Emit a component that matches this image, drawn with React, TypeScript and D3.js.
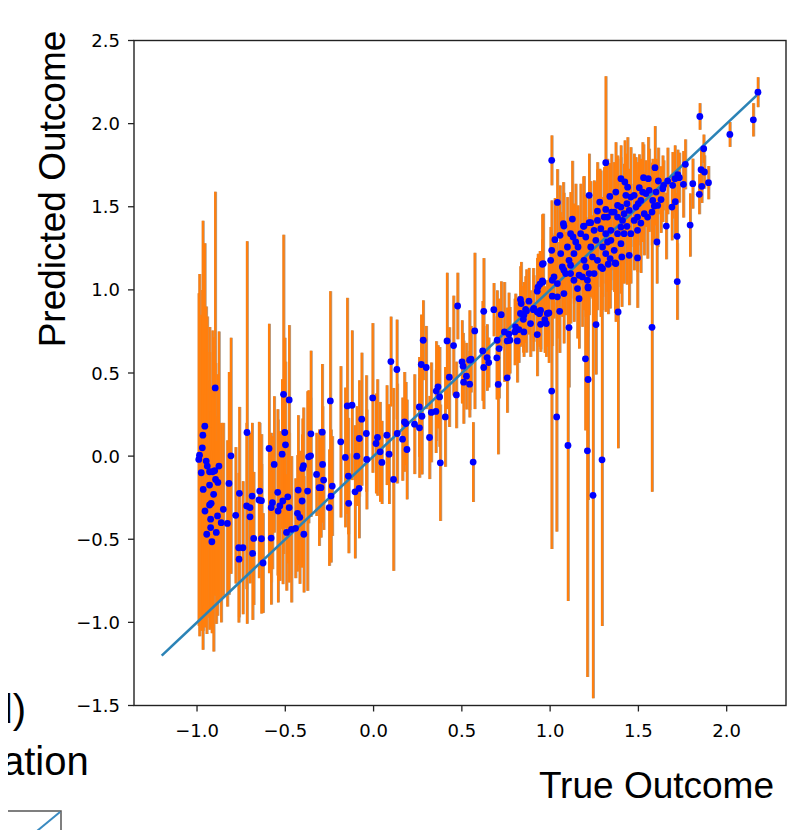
import React from "react";
import * as d3 from "d3";

// [true, predicted, error half-length]
const leftCluster: number[][] = [
  [-0.986, 0.006, 1.09], [-0.976, -0.1, 0.95], [-0.967, 0.126, 1.29], [-0.956, 0.18, 1.1],
  [-0.897, 0.41, 1.18], [-0.948, -0.03, 0.93], [-0.929, -0.094, 0.87], [-0.9, -0.088, 0.75],
  [-0.876, -0.06, 0.81], [-0.929, -0.174, 0.8], [-0.895, -0.14, 0.7], [-0.882, -0.158, 0.65],
  [-0.906, -0.23, 0.945], [-0.929, -0.294, 0.75], [-0.92, -0.284, 0.7], [-0.923, -0.379, 0.65],
  [-0.884, -0.36, 0.6], [-0.923, -0.43, 0.6], [-0.891, -0.459, 0.55], [-0.863, -0.4, 0.6],
  [-0.851, -0.32, 0.52], [-0.942, -0.06, 0.9], [-0.912, -0.094, 0.85], [-0.916, -0.515, 0.55],
  [-0.99, -0.02, 1.0], [-0.965, -0.2, 0.85], [-0.955, -0.33, 0.7], [-0.945, -0.47, 0.6],
  [-0.97, 0.05, 0.95],
];

const middleBand: number[][] = [
  [-0.828, -0.405, 0.5], [-0.808, 0.002, 0.71], [-0.819, -0.164, 0.67], [-0.781, -0.356, 0.41],
  [-0.76, -0.224, 0.52], [-0.717, 0.142, 1.15], [-0.719, -0.3, 0.5], [-0.7, -0.31, 0.45],
  [-0.7, -0.365, 0.4], [-0.688, -0.24, 0.44], [-0.645, -0.21, 0.41], [-0.649, -0.264, 0.47],
  [-0.635, -0.268, 0.4], [-0.592, 0.046, 0.75], [-0.563, -0.05, 0.41], [-0.58, -0.31, 0.45],
  [-0.573, -0.28, 0.4], [-0.543, -0.218, 0.5], [-0.541, -0.33, 0.55], [-0.531, -0.3, 0.45],
  [-0.514, -0.27, 0.5], [-0.51, 0.372, 0.96], [-0.478, 0.338, 0.45], [-0.503, 0.142, 0.57],
  [-0.499, 0.068, 0.5], [-0.518, 0.012, 0.45], [-0.486, -0.245, 0.4], [-0.478, -0.31, 0.45],
  [-0.427, -0.204, 0.45], [-0.402, -0.074, 0.3], [-0.397, -0.058, 0.35], [-0.405, -0.27, 0.4],
  [-0.431, -0.344, 0.35], [-0.418, -0.368, 0.4], [-0.374, -0.21, 0.6], [-0.368, -0.004, 0.4],
  [-0.357, 0.002, 0.35], [-0.355, 0.134, 0.5], [-0.323, -0.11, 0.25], [-0.308, -0.19, 0.35],
  [-0.298, -0.19, 0.3], [-0.291, 0.144, 0.41], [-0.289, -0.05, 0.35], [-0.283, -0.144, 0.3],
  [-0.245, 0.332, 0.66], [-0.234, -0.18, 0.3], [-0.251, -0.31, 0.35], [-0.241, -0.24, 0.4],
  [-0.186, 0.086, 0.455], [-0.149, 0.302, 0.65], [-0.16, -0.008, 0.42], [-0.143, -0.12, 0.35],
  [-0.141, -0.284, 0.3], [-0.493, -0.459, 0.35], [-0.465, -0.44, 0.44], [-0.442, -0.434, 0.3],
  [-0.395, -0.47, 0.35], [-0.679, -0.495, 0.4], [-0.635, -0.497, 0.45], [-0.58, -0.493, 0.4],
  [-0.764, -0.551, 0.45], [-0.74, -0.551, 0.4], [-0.762, -0.62, 0.35], [-0.685, -0.585, 0.4],
  [-0.626, -0.643, 0.3], [-0.122, 0.306, 0.45], [-0.067, 0.222, 0.4], [-0.081, 0.106, 0.35],
  [-0.095, 0.0, 0.3], [-0.105, -0.215, 0.4], [-0.082, -0.194, 0.3], [-0.041, 0.136, 0.35],
  [-0.039, -0.02, 0.3], [-0.005, 0.35, 0.45], [0.014, 0.076, 0.3], [0.022, 0.112, 0.35],
  [0.037, 0.026, 0.3], [0.047, -0.038, 0.25], [0.075, 0.126, 0.3], [0.088, 0.012, 0.3],
  [0.113, -0.14, 0.55], [0.134, 0.136, 0.3],
  [0.476, 0.903, 0.2], [0.624, 0.871, 0.32], [0.681, 0.881, 0.16], [0.723, 0.851, 0.2],
  [0.573, 0.753, 0.47], [0.281, 0.697, 0.24], [0.416, 0.693, 0.41], [0.453, 0.665, 0.3],
  [0.098, 0.569, 0.27], [0.132, 0.521, 0.3], [0.27, 0.551, 0.3], [0.298, 0.533, 0.25],
  [0.429, 0.475, 0.3], [0.501, 0.567, 0.25], [0.507, 0.541, 0.2], [0.544, 0.577, 0.3],
  [0.552, 0.583, 0.2], [0.526, 0.481, 0.2], [0.51, 0.445, 0.25], [0.544, 0.433, 0.2],
  [0.618, 0.633, 0.3], [0.643, 0.593, 0.2], [0.652, 0.563, 0.15], [0.624, 0.533, 0.25],
  [0.7, 0.697, 0.3], [0.711, 0.647, 0.3], [0.698, 0.591, 0.25], [0.757, 0.471, 0.21],
  [0.706, 0.431, 0.42], [0.741, 0.747, 0.3], [0.766, 0.733, 0.25], [0.757, 0.693, 0.2],
  [0.772, 0.697, 0.2], [0.8, 0.747, 0.2], [0.814, 0.693, 0.25], [0.832, 0.942, 0.2],
  [0.836, 0.918, 0.25], [0.851, 0.847, 0.2], [0.866, 0.873, 0.25], [0.848, 0.823, 0.2],
  [0.804, 0.777, 0.2], [0.823, 0.761, 0.2], [0.851, 0.747, 0.15], [0.889, 0.797, 0.2],
  [0.905, 0.881, 0.25], [0.927, 0.867, 0.2], [0.94, 0.857, 0.2], [0.946, 0.793, 0.15],
  [0.97, 0.821, 0.2], [0.978, 0.797, 0.2], [0.927, 0.731, 0.25], [0.993, 0.861, 0.3],
  [0.164, 0.102, 0.25], [0.175, 0.206, 0.3], [0.183, 0.196, 0.25], [0.189, 0.04, 0.3],
  [0.232, 0.192, 0.3], [0.259, 0.296, 0.3], [0.274, 0.24, 0.35], [0.26, 0.17, 0.3],
  [0.317, 0.112, 0.25], [0.327, 0.263, 0.3], [0.353, 0.269, 0.25], [0.355, 0.391, 0.3],
  [0.365, 0.417, 0.25], [0.374, 0.356, 0.3], [0.406, 0.236, 0.3], [0.378, -0.04, 0.35],
  [0.564, -0.036, 0.24], [0.469, 0.368, 0.2],
];

const upperCluster: number[][] = [
  [0.931, 1.017, 0.2], [0.942, 1.034, 0.2], [0.961, 1.158, 0.3], [0.959, 1.047, 0.25],
  [1.012, 0.962, 0.3], [1.054, 0.871, 0.25], [1.107, 0.773, 0.36], [1.164, 0.947, 0.3],
  [2.177, 2.189, 0.09], [2.151, 2.023, 0.1], [2.018, 1.935, 0.075], [1.848, 2.043, 0.08],
  [1.87, 1.849, 0.085], [1.855, 1.723, 0.12], [1.874, 1.709, 0.1], [1.897, 1.645, 0.1],
  [1.859, 1.623, 0.1], [1.845, 1.575, 0.12], [1.808, 1.639, 0.15], [1.793, 1.39, 0.19],
  [1.766, 1.755, 0.15], [1.755, 1.635, 0.2], [1.723, 1.693, 0.15], [1.707, 1.669, 0.2],
  [1.732, 1.675, 0.15], [1.694, 1.629, 0.2], [1.666, 1.655, 0.2], [1.643, 1.629, 0.15],
  [1.613, 1.655, 0.2], [1.594, 1.735, 0.25], [1.709, 1.53, 0.2], [1.69, 1.498, 0.2],
  [1.719, 1.322, 0.26], [1.72, 1.05, 0.23], [1.658, 1.384, 0.2], [1.605, 1.288, 0.25],
  [1.315, 1.765, 0.52], [1.009, 1.779, 0.15], [1.041, 1.526, 0.2], [1.221, 1.569, 0.25],
  [1.338, 1.562, 0.2], [1.281, 1.528, 0.2], [1.268, 1.474, 0.25], [1.126, 1.426, 0.35],
  [1.075, 1.398, 0.25], [1.078, 1.384, 0.2], [1.027, 1.302, 0.25], [1.056, 1.328, 0.3],
  [1.116, 1.338, 0.25], [1.13, 1.318, 0.2], [1.189, 1.382, 0.3], [1.221, 1.404, 0.2],
  [1.23, 1.404, 0.25], [1.009, 1.238, 0.3], [1.003, 1.178, 0.2], [1.022, 1.078, 0.25],
  [1.012, 1.058, 0.2], [0.956, 1.054, 0.25], [0.927, 0.992, 0.2], [0.88, 0.932, 0.2],
  [0.861, 0.882, 0.2], [0.832, 0.858, 0.2], [0.908, 0.888, 0.2], [0.946, 0.877, 0.25],
  [0.984, 0.858, 0.2], [1.215, 1.018, 0.3],
  [1.287, 1.138, 0.3], [1.24, 1.198, 0.25], [1.192, 1.178, 0.3], [1.158, 1.258, 0.25],
  [1.135, 1.218, 0.3], [1.107, 1.178, 0.25], [1.116, 1.148, 0.2], [1.069, 1.138, 0.3],
  [1.088, 1.098, 0.25], [1.164, 1.088, 0.2], [1.183, 1.078, 0.3], [1.135, 1.058, 0.25],
  [1.211, 1.058, 0.2], [1.249, 1.098, 0.3], [1.297, 1.128, 0.25], [1.34, 1.188, 0.3],
  [1.363, 1.238, 0.25], [1.344, 1.298, 0.3], [1.382, 1.338, 0.25], [1.401, 1.378, 0.3],
  [1.41, 1.418, 0.25], [1.419, 1.458, 0.3], [1.448, 1.478, 0.25], [1.486, 1.498, 0.3],
  [1.514, 1.538, 0.25], [1.543, 1.579, 0.2], [1.561, 1.599, 0.25], [1.457, 1.338, 0.3],
  [1.495, 1.358, 0.25], [1.514, 1.402, 0.3], [1.552, 1.438, 0.25], [1.577, 1.468, 0.2],
  [1.609, 1.508, 0.25], [1.628, 1.543, 0.2], [1.457, 1.558, 0.3], [1.499, 1.518, 0.25],
  [1.401, 1.278, 0.3], [1.372, 1.158, 0.35], [1.406, 1.198, 0.3], [1.448, 1.208, 0.3],
  [1.495, 1.192, 0.3], [1.325, 1.438, 0.35], [1.363, 1.468, 0.3], [1.401, 1.498, 0.3],
  [1.435, 1.518, 0.25], [1.287, 1.368, 0.35], [1.315, 1.338, 0.3], [1.344, 1.358, 0.3],
  [1.259, 1.298, 0.35], [1.23, 1.258, 0.3], [1.155, 1.008, 0.3], [1.215, 1.012, 0.25],
  [1.078, 0.978, 0.3], [1.041, 0.958, 0.25], [1.297, 1.258, 0.3], [1.325, 1.288, 0.3],
  [1.382, 1.438, 0.35], [1.401, 1.669, 0.2], [1.423, 1.649, 0.25], [1.529, 1.675, 0.2],
  [1.556, 1.669, 0.25], [1.505, 1.615, 0.2], [1.476, 1.569, 0.25], [1.429, 1.569, 0.25],
  [1.315, 1.484, 0.3], [1.192, 1.384, 0.3], [1.382, 1.508, 0.3], [1.495, 1.438, 0.25],
  [1.59, 1.504, 0.2], [1.368, 1.162, 0.3],
  [0.956, 1.154, 0.3], [1.06, 1.218, 0.25], [1.098, 1.258, 0.3], [1.145, 1.288, 0.35],
  [1.173, 1.338, 0.3], [1.202, 1.318, 0.25], [1.249, 1.358, 0.3], [1.268, 1.418, 0.35],
  [1.306, 1.438, 0.3], [1.348, 1.468, 0.35], [1.078, 1.118, 0.25], [1.116, 1.098, 0.3],
  [1.041, 1.038, 0.25], [1.202, 1.138, 0.3], [1.221, 1.098, 0.25], [1.268, 1.178, 0.3],
  [1.315, 1.218, 0.35], [1.329, 1.154, 0.3], [1.419, 1.338, 0.3], [1.435, 1.382, 0.35],
  [1.476, 1.418, 0.3], [1.533, 1.458, 0.25], [1.581, 1.538, 0.25], [1.6, 1.588, 0.2],
  [1.638, 1.608, 0.2], [1.524, 1.588, 0.3], [1.439, 1.618, 0.3], [1.372, 1.588, 0.3],
];

const outliers: number[][] = [
  [1.009, 0.391, 0.95], [1.037, 0.236, 0.69], [1.101, 0.064, 0.935],
  [1.2, 0.585, 0.43], [1.215, 0.461, 0.725], [1.211, 0.032, 1.36],
  [1.243, -0.236, 1.22], [1.294, -0.022, 1.0], [1.26, 0.791, 0.3],
  [1.385, 0.867, 0.82], [1.577, 0.775, 0.99],
];

const identityLine = [-1.2, 2.17];
const xTicks = [-1.0, -0.5, 0.0, 0.5, 1.0, 1.5, 2.0];
const yTicks = [-1.5, -1.0, -0.5, 0.0, 0.5, 1.0, 1.5, 2.0, 2.5];

const allPoints = [...leftCluster, ...middleBand, ...upperCluster, ...outliers];

const fmt = (v: number) => v.toFixed(1).replace("-", "\u2212");

export default function App() {
  const L = 134, R = 786, T = 40.5, B = 705.5;
  const x = d3.scaleLinear().domain([-1.357, 2.336]).range([L, R]);
  const y = d3.scaleLinear().domain([-1.5, 2.5]).range([B, T]);
  const line = d3.line<number>().x((v) => x(v)).y((v) => y(v));
  const tickFont = "DejaVu Sans, sans-serif";
  const labelFont = "Liberation Sans, Arial, Helvetica, sans-serif";

  return (
    <svg width={800} height={830} style={{ display: "block", margin: "-8px 0 0 -8px", overflow: "hidden" }}>
      <rect x={0} y={0} width={800} height={830} fill="#fff" />
      {/* error bars */}
      <g>
        {allPoints.map((p, i) => (
          <line key={"g" + i} x1={x(p[0]) + 0.4} x2={x(p[0]) + 0.4} y1={y(p[1] - p[2])} y2={y(p[1] + p[2])}
            stroke="#b39c86" strokeWidth={3} />
        ))}
        {allPoints.map((p, i) => (
          <line key={"o" + i} x1={x(p[0])} x2={x(p[0])} y1={y(p[1] - p[2])} y2={y(p[1] + p[2])}
            stroke="#ff7f0e" strokeWidth={2.2} />
        ))}
      </g>
      {/* identity line */}
      <path d={line(identityLine) || ""} stroke="#2b83b6" strokeWidth={2.6} fill="none" />
      {/* points */}
      <g>
        {allPoints.map((p, i) => (
          <circle key={"c" + i} cx={x(p[0])} cy={y(p[1])} r={3.4} fill="#0000ff" />
        ))}
      </g>
      {/* frame */}
      <rect x={L} y={T} width={R - L} height={B - T} fill="none" stroke="#222" strokeWidth={1.4} />
      {/* x ticks */}
      {xTicks.map((t) => (
        <g key={"xt" + t}>
          <line x1={x(t)} x2={x(t)} y1={B} y2={B + 6} stroke="#222" strokeWidth={1.3} />
          <text x={x(t)} y={737} textAnchor="middle" fontFamily={tickFont} fontSize={18} fill="#000">{fmt(t)}</text>
        </g>
      ))}
      {/* y ticks */}
      {yTicks.map((t) => (
        <g key={"yt" + t}>
          <line x1={L - 6} x2={L} y1={y(t)} y2={y(t)} stroke="#222" strokeWidth={1.3} />
          <text x={120} y={y(t) + 6.5} textAnchor="end" fontFamily={tickFont} fontSize={18} fill="#000">{fmt(t)}</text>
        </g>
      ))}
      {/* axis labels */}
      <text x={774} y={798} textAnchor="end" fontFamily={labelFont} fontSize={37} fill="#000">True Outcome</text>
      <text transform="translate(65,189) rotate(-90)" textAnchor="middle" fontFamily={labelFont} fontSize={37} fill="#000">Predicted Outcome</text>
      {/* cropped neighbouring panel */}
      <text x={26} y={723} textAnchor="end" fontFamily={labelFont} fontSize={40} fill="#000">d)</text>
      <text x={2} y={775} textAnchor="start" fontFamily={labelFont} fontSize={40} fill="#000">ation</text>
      <rect x={-10} y={811} width={71} height={40} fill="none" stroke="#555" strokeWidth={1.5} />
      <line x1={37} y1={831} x2={60} y2={812} stroke="#3a8ac0" strokeWidth={2} />
    </svg>
  );
}
